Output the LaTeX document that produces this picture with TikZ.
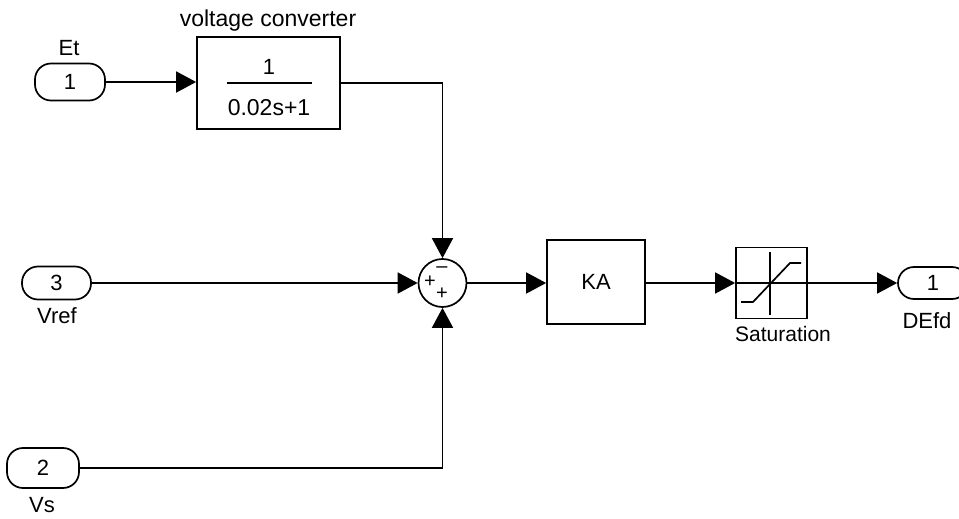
\documentclass[tikz,border=0pt]{standalone}
\usepackage{fontspec}
\setmainfont{Liberation Sans}
\usetikzlibrary{arrows.meta}
\begin{document}
\begin{tikzpicture}[x=1pt,y=-1pt,line width=1.7pt,
  >={Triangle[length=20pt,width=21pt]},
  txt/.style={font=\fontsize{22}{22}\selectfont,inner sep=0pt},
  port/.style={draw,rounded corners=16pt,inner sep=0pt,font=\fontsize{22}{22}\selectfont},
  blk/.style={draw,inner sep=0pt,font=\fontsize{22}{22}\selectfont},
  sgn/.style={font=\fontsize{20}{20}\selectfont,inner sep=0pt}]
\useasboundingbox (0,0) rectangle (959,519);
% ports
\node[port,minimum width=70pt,minimum height=37pt] (et) at (70,82) {1};
\node[txt] (etl) at (69,48) {Et};
\node[port,minimum width=69pt,minimum height=33pt] (vref) at (56.5,283) {3};
\node[txt] (vrefl) at (57,316) {Vref};
\node[port,minimum width=72pt,minimum height=40pt] (vs) at (43,468) {2};
\node[txt] (vsl) at (42,505) {Vs};
\node[port,minimum width=70pt,minimum height=32pt] (defd) at (933,283) {1};
\node[txt] (defdl) at (927,321) {DEfd};
% transfer function
\node[blk,minimum width=143pt,minimum height=92pt] (tf) at (268.5,83) {};
\node[txt,font=\fontsize{23}{23}\selectfont] (tfl) at (268,21) {voltage converter};
\node[txt] (num) at (269,67) {1};
\node[txt,font=\fontsize{23}{23}\selectfont] (den) at (269,108) {0.02s+1};
\draw[line width=1.4pt] (227,83) -- (312,83);
% sum
\node[draw,circle,minimum size=48pt,inner sep=0pt] (sum) at (442.5,283) {};
\node[sgn] (sm) at (442,270) {\textendash};
\node[sgn] (sp1) at (430,282) {+};
\node[sgn] (sp2) at (442,294) {+};
% gain
\node[blk,minimum width=98pt,minimum height=84pt] (ka) at (596,282) {KA};
% saturation
\node[blk,minimum width=71pt,minimum height=71pt] (sat) at (771.5,283) {};
\node[txt,font=\fontsize{21}{21}\selectfont] (satl) at (783,334) {Saturation};
\draw[line width=1.3pt] (sat.west) -- (sat.east);
\draw[line width=1.3pt] (770,252) -- (770,315);
\draw[line width=1.7pt] (741,302) -- (753,302) -- (790,263) -- (801,263);
% connectors
\draw[->] (et.east) -- (et.east -| tf.west);
\draw[->] (tf.east) -| (sum.north);
\draw[->] (vref.east) -- (sum.west);
\draw[->] (vs.east) -| (sum.south);
\draw[->] (sum.east) -- (sum.east -| ka.west);
\draw[->] (ka.east |- sat.west) -- (sat.west);
\draw[->] (sat.east) -- (defd.west);
\end{tikzpicture}
\end{document}
